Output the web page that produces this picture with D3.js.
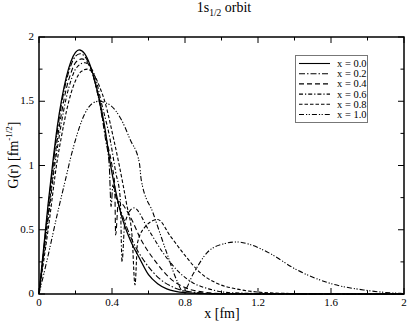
<!DOCTYPE html>
<html><head><meta charset="utf-8">
<script src="https://cdn.jsdelivr.net/npm/d3@7"></script>
<style>body{margin:0;background:#fff}svg{display:block}text{font-family:"Liberation Serif","DejaVu Serif",serif}</style>
</head><body><svg id="c" width="409" height="322"></svg>
<script>
const seriesLabels = ["x = 0.0","x = 0.2","x = 0.4","x = 0.6","x = 0.8","x = 1.0"];
const r00 = [0,0.03,0.05,0.077,0.1,0.125,0.15,0.175,0.2,0.22,0.25,0.28,0.3,0.33,0.36,0.39,0.42,0.45,0.5,0.55,0.6,0.65,0.7,0.8,0.9,1.0,2.0];
const g00 = [0,0.42,0.7,1.04,1.3,1.52,1.69,1.81,1.88,1.9,1.87,1.78,1.69,1.52,1.3,1.02,0.8,0.62,0.42,0.28,0.15,0.08,0.04,0.01,0.003,0,0];
const r02 = [0,0.03,0.05,0.08,0.1,0.125,0.15,0.175,0.2,0.225,0.25,0.28,0.3,0.33,0.365,0.385,0.395,0.405,0.41,0.46,0.51,0.58,0.66,0.74,0.84,1.0,2.0];
const g02 = [0,0.4,0.67,1.04,1.26,1.49,1.66,1.78,1.85,1.87,1.85,1.77,1.68,1.5,1.2,1.0,0.68,0.85,0.82,0.6,0.42,0.25,0.12,0.05,0.015,0.002,0];
const r04 = [0,0.03,0.05,0.085,0.1,0.125,0.15,0.175,0.2,0.235,0.26,0.29,0.33,0.37,0.4,0.415,0.42,0.435,0.5,0.56,0.64,0.72,0.8,0.9,1.0,2.0];
const g04 = [0,0.37,0.62,1.04,1.2,1.42,1.6,1.72,1.8,1.83,1.81,1.73,1.5,1.2,1.0,0.85,0.46,0.72,0.6,0.42,0.25,0.12,0.05,0.015,0.004,0];
const r06 = [0,0.03,0.05,0.09,0.1,0.125,0.15,0.175,0.2,0.25,0.28,0.31,0.34,0.39,0.42,0.445,0.455,0.47,0.52,0.6,0.68,0.76,0.84,0.93,1.05,1.3,2.0];
const g06 = [0,0.35,0.58,1.04,1.13,1.35,1.53,1.66,1.75,1.8,1.77,1.68,1.5,1.2,0.95,0.75,0.25,0.55,0.67,0.5,0.32,0.18,0.09,0.04,0.01,0.002,0];
const r08 = [0,0.03,0.05,0.1,0.125,0.15,0.175,0.2,0.23,0.265,0.3,0.33,0.36,0.41,0.44,0.48,0.51,0.526,0.54,0.58,0.65,0.72,0.8,0.88,0.98,1.08,1.2,1.35,1.6,2.0];
const g08 = [0,0.3,0.5,1.04,1.24,1.42,1.56,1.66,1.73,1.75,1.71,1.62,1.5,1.2,1.0,0.7,0.45,0.07,0.4,0.52,0.58,0.45,0.3,0.17,0.08,0.04,0.015,0.005,0.001,0];
const r10 = [0,0.05,0.1,0.15,0.17,0.2,0.25,0.3,0.33,0.36,0.39,0.45,0.5,0.55,0.56,0.625,0.7,0.754,0.79,0.846,0.92,1.01,1.083,1.156,1.21,1.26,1.41,1.595,1.78,1.98,2.0];
const g10 = [0,0.3,0.62,0.92,1.04,1.2,1.4,1.49,1.5,1.49,1.47,1.36,1.2,1.02,0.89,0.63,0.32,0.11,0.018,0.16,0.32,0.39,0.405,0.385,0.355,0.32,0.19,0.083,0.031,0.005,0.004];
const xTicks = [0,0.4,0.8,1.2,1.6,2];
const yTicks = [0,0.5,1,1.5,2];
const titleMain = "1s", titleSub = "1/2", titleRest = " orbit";
const xLabel = "x [fm]";

const series = [[r00,g00],[r02,g02],[r04,g04],[r06,g06],[r08,g08],[r10,g10]];
const dashes = [null,"6,2,1.5,2","5,3","4,2,1.2,2","3.5,2","5,2,1.2,1.5,1.2,2"];

const svg = d3.select("#c");
const L=39,R=404,T=37,B=294;
const x = d3.scaleLinear().domain([0,2]).range([L,R]);
const y = d3.scaleLinear().domain([0,2]).range([B,T]);

const line = d3.line().x(d=>x(d[0])).y(d=>y(d[1])).curve(d3.curveMonotoneX);
series.forEach((s,i)=>{
  const pts = s[0].map((v,j)=>[v,s[1][j]]);
  svg.append("path").attr("d",line(pts)).attr("fill","none").attr("stroke","#000")
    .attr("stroke-width",i===0?1.3:1.1).attr("stroke-dasharray",dashes[i]);
});

const minorX = d3.range(0,2.001,0.2), minorY = d3.range(0,2.001,0.25);
const ax = svg.append("g");
const tick=(x1,y1,x2,y2)=>ax.append("line").attr("x1",x1).attr("y1",y1).attr("x2",x2).attr("y2",y2).attr("stroke","#000").attr("stroke-width",1);
minorX.forEach(v=>{const major=xTicks.some(t=>Math.abs(t-v)<1e-6);const len=major?6:3.5;
  tick(x(v),B,x(v),B-len);tick(x(v),T,x(v),T+len);});
minorY.forEach(v=>{const major=yTicks.some(t=>Math.abs(t-v)<1e-6);const len=major?6:3.5;
  tick(L,y(v),L+len,y(v));tick(R,y(v),R-len,y(v));});
svg.append("rect").attr("x",L).attr("y",T).attr("width",R-L).attr("height",B-T).attr("fill","none").attr("stroke","#000").attr("stroke-width",1.5);

svg.append("g").selectAll("text").data(xTicks).join("text")
  .attr("x",d=>x(d)).attr("y",306).attr("text-anchor","middle").attr("font-size",11).text(d=>d3.format("")(d));
svg.append("g").selectAll("text").data(yTicks).join("text")
  .attr("x",34).attr("y",d=>y(d)+3).attr("text-anchor","end").attr("font-size",11).text(d=>d3.format("")(d));

const tt = svg.append("text").attr("x",224).attr("y",12).attr("text-anchor","middle").attr("font-size",14);
tt.append("tspan").text(titleMain);
tt.append("tspan").attr("font-size",9.5).attr("dy",4).text(titleSub);
tt.append("tspan").attr("dy",-4).text(titleRest);

svg.append("text").attr("x",222).attr("y",318).attr("text-anchor","middle").attr("font-size",14).text(xLabel);
const yl = svg.append("text").attr("transform","translate(18,155) rotate(-90)").attr("text-anchor","middle").attr("font-size",14);
yl.append("tspan").text("G(r) [fm");
yl.append("tspan").attr("font-size",9).attr("dy",-6).text("-1/2");
yl.append("tspan").attr("dy",6).text("]");

const lg = svg.append("g");
lg.append("rect").attr("x",295.5).attr("y",55.5).attr("width",72).attr("height",67).attr("fill","#fff").attr("stroke","#777").attr("stroke-width",1);
seriesLabels.forEach((lab,i)=>{
  const yy = 63.5 + i*10.2;
  lg.append("line").attr("x1",299).attr("x2",330).attr("y1",yy).attr("y2",yy).attr("stroke","#000")
    .attr("stroke-width",1.1).attr("stroke-dasharray",dashes[i]);
  lg.append("text").attr("x",337).attr("y",yy+3.5).attr("font-size",10.5).text(lab);
});
</script></body></html>
